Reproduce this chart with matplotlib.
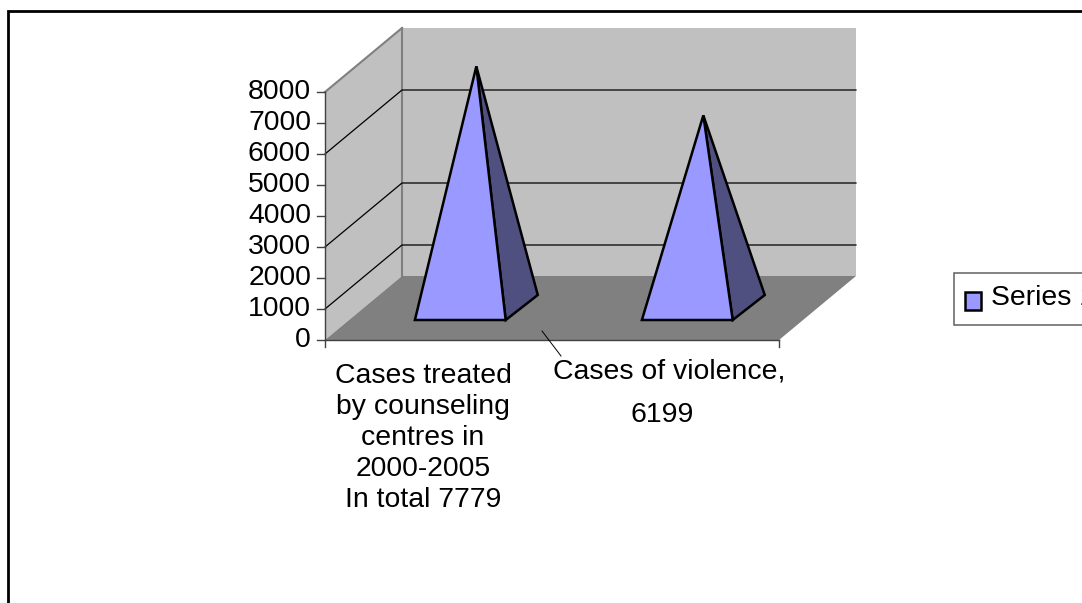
import matplotlib
matplotlib.use("Agg")
import matplotlib.pyplot as plt
from matplotlib.patches import Polygon, Rectangle

plt.rcParams['font.family'] = ['Liberation Sans', 'DejaVu Sans']

# data
cat_label_1 = "Cases treated\nby counseling\ncentres in\n2000-2005\nIn total 7779"
cat_label_2 = "Cases of violence,"
cat_label_2b = "6199"
values = [7779, 6199]
y_ticks = [0, 1000, 2000, 3000, 4000, 5000, 6000, 7000, 8000]
grid_values = [1000, 3000, 6000]
series_name = "Series 1"

# 3d look: front axis origin, size and wall offset in pixels
x0, y0 = 325, 340
cat_w = 227
px_per_unit = 248 / 8000
dx, dy = 77, -64
y_max = 8000
n_cat = len(values)
font_size = 20.4


def proj(c, d, v):
    # c = category position, d = depth 0..1, v = value
    return (x0 + c * cat_w + d * dx, y0 + d * dy - v * px_per_unit)


fig = plt.figure(figsize=(10.82, 6.03), dpi=100)
ax = fig.add_axes([0, 0, 1, 1])
ax.set_xlim(0, 1082)
ax.set_ylim(603, 0)
ax.axis('off')

# outer frame, runs off the right and bottom
ax.plot([8, 8, 1082], [603, 10.5, 10.5], color='black', lw=2, solid_joinstyle='miter', zorder=1)

# walls and floor
ax.add_patch(Polygon([proj(0, 1, 0), proj(n_cat, 1, 0), proj(n_cat, 1, y_max), proj(0, 1, y_max)],
                     fc='#C0C0C0', ec='none', zorder=2))
ax.add_patch(Polygon([proj(0, 0, 0), proj(0, 1, 0), proj(0, 1, y_max), proj(0, 0, y_max)],
                     fc='#C0C0C0', ec='none', zorder=2))
ax.add_patch(Polygon([proj(0, 0, 0), proj(n_cat, 0, 0), proj(n_cat, 1, 0), proj(0, 1, 0)],
                     fc='#808080', ec='none', zorder=2))

# wall edges
for a, b in [(proj(0, 1, 0), proj(0, 1, y_max)), (proj(0, 0, y_max), proj(0, 1, y_max))]:
    ax.plot([a[0], b[0]], [a[1], b[1]], color='#808080', lw=1.5, zorder=3)

# gridlines
for v in grid_values:
    p = [proj(0, 0, v), proj(0, 1, v), proj(n_cat, 1, v)]
    ax.plot([q[0] for q in p], [q[1] for q in p], color='black', lw=0.9, zorder=3)

# axes
ax.plot([x0, x0], [y0 + 7, y0 - y_max * px_per_unit], color='#404040', lw=1, zorder=4)
ax.plot([x0, x0 + n_cat * cat_w], [y0, y0], color='#404040', lw=1, zorder=4)
ax.plot([x0 + n_cat * cat_w] * 2, [y0, y0 + 7], color='#404040', lw=1, zorder=4)
for v in y_ticks:
    yy = proj(0, 0, v)[1]
    ax.plot([x0 - 8, x0], [yy, yy], color='#404040', lw=1, zorder=4)
    ax.text(x0 - 14, yy, str(v), ha='right', va='center', fontsize=font_size, color='black', zorder=5)

# pyramids
for i, v in enumerate(values):
    c = i + 0.49
    w = 0.2
    d1, d2 = 0.3125, 0.703
    fl = proj(c - w, d1, 0)
    fr = proj(c + w, d1, 0)
    br = proj(c + w, d2, 0)
    br = (br[0] + 2, br[1])
    top = proj(c, (d1 + d2) / 2, v)
    top = (top[0] + 1, top[1])
    ax.add_patch(Polygon([fr, br, top], fc='#4F4F80', ec='black', lw=1.8, joinstyle='miter', zorder=6))
    ax.add_patch(Polygon([fl, fr, top], fc='#9999FF', ec='black', lw=1.8, joinstyle='miter', zorder=7))

# category labels
ax.text(423, 438, cat_label_1, ha='center', va='center', fontsize=font_size, linespacing=1.24, zorder=5)
ax.text(669, 371, cat_label_2, ha='center', va='center', fontsize=font_size, zorder=5)
ax.text(662, 415, cat_label_2b, ha='center', va='center', fontsize=font_size, zorder=5)
ax.plot([542, 561], [331, 356], color='black', lw=0.7, zorder=8)

# legend, cut off by the picture edge
ax.add_patch(Rectangle((953.5, 273), 140, 52, fc='white', ec='#606060', lw=1.1, zorder=3))
ax.add_patch(Rectangle((965, 292), 16, 18, fc='#9999FF', ec='black', lw=1.8, zorder=4))
ax.text(991, 298, series_name, ha='left', va='center', fontsize=font_size, zorder=5)

fig.savefig("out.png", dpi=100)
